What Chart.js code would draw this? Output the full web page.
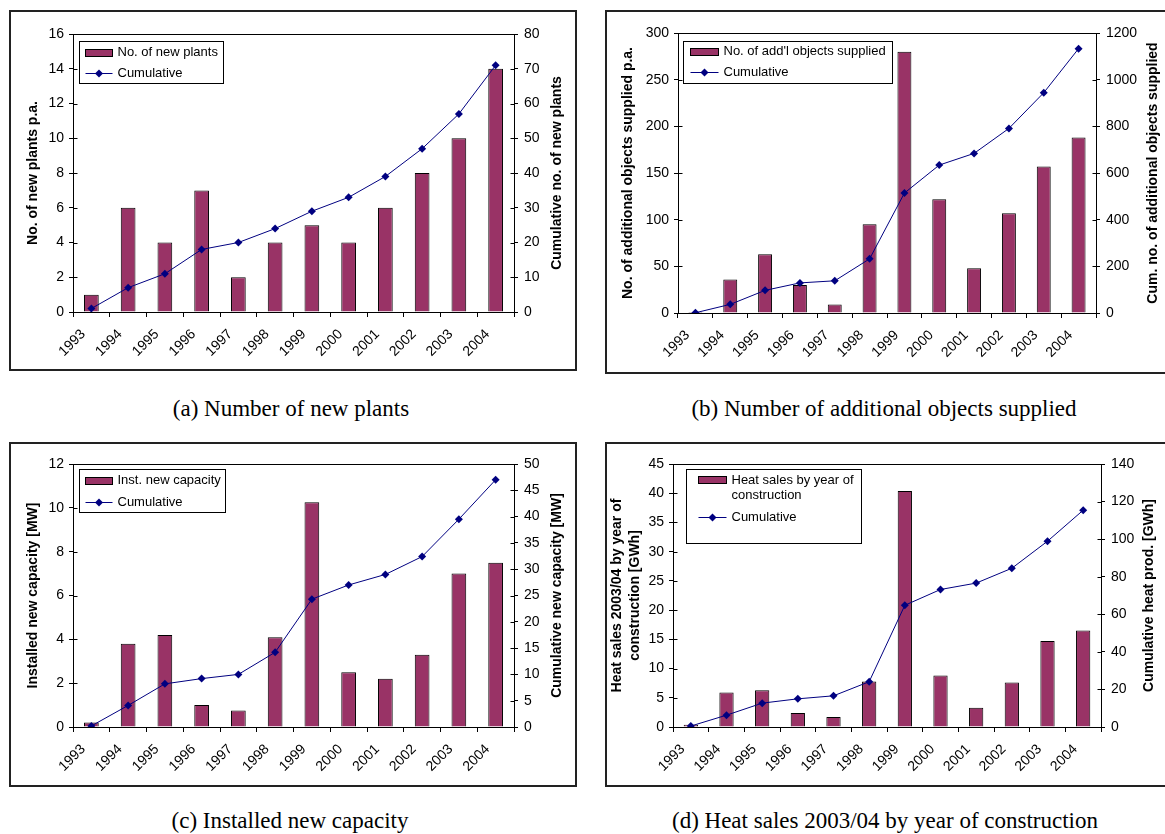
<!DOCTYPE html>
<html>
<head>
<meta charset="utf-8">
<script src="https://cdn.jsdelivr.net/npm/chart.js@4.4.0/dist/chart.umd.min.js"></script>
<style>
  html, body { margin: 0; padding: 0; background: #fff; }
  body { width: 1165px; height: 834px; position: relative; overflow: hidden; }
  canvas { position: absolute; }
  .frame { position: absolute; box-sizing: border-box; border: 2px solid #222; pointer-events: none; }
  .caption { position: absolute; width: 600px; text-align: center; line-height: 1;
             font-family: 'Liberation Serif', 'Times New Roman', serif; font-size: 23px; color: #000; }
</style>
</head>
<body>
<canvas id="chartA"></canvas>
<canvas id="chartB"></canvas>
<canvas id="chartC"></canvas>
<canvas id="chartD"></canvas>
<div class="caption" style="left:-9px; top:397px;">(a) Number of new plants</div>
<div class="caption" style="left:584px; top:397px;">(b) Number of additional objects supplied</div>
<div class="caption" style="left:-10px; top:809px;">(c) Installed new capacity</div>
<div class="caption" style="left:585px; top:809px;">(d) Heat sales 2003/04 by year of construction</div>
<script>
// Years of construction
const years = ['1993', '1994', '1995', '1996', '1997', '1998', '1999', '2000', '2001', '2002', '2003', '2004'];

// (a) new plants per year and cumulative count
const newPlants    = [1, 6, 4, 7, 2, 4, 5, 4, 6, 8, 10, 14];
const newPlantsCum = [1, 7, 11, 18, 20, 24, 29, 33, 39, 47, 57, 71];

// (b) additional objects supplied per year and cumulative count
const addObjects    = [1, 36, 63, 30, 9, 95, 280, 122, 48, 107, 157, 188];
const addObjectsCum = [1, 37, 97, 129, 138, 232, 514, 634, 684, 791, 944, 1133];

// (c) installed new capacity [MW] and cumulative capacity
const newCapacity    = [0.2, 3.8, 4.2, 1.0, 0.75, 4.1, 10.25, 2.5, 2.2, 3.3, 7.0, 7.5];
const newCapacityCum = [0.2, 4.1, 8.2, 9.2, 10.0, 14.2, 24.3, 27.0, 29.0, 32.4, 39.5, 47.0];

// (d) heat sales 2003/04 [GWh] by year of construction and cumulative heat production
const heatSales    = [0.4, 5.9, 6.3, 2.4, 1.7, 7.8, 40.4, 8.8, 3.3, 7.6, 14.7, 16.5];
const heatSalesCum = [0.5, 6.3, 12.7, 15.0, 16.6, 24.1, 64.8, 73.2, 76.6, 84.5, 98.9, 115.4];

// Axis ranges: [min, max, step]
const plantsLeftTicks    = [0, 16, 2];
const plantsRightTicks   = [0, 80, 10];
const objectsLeftTicks   = [0, 300, 50];
const objectsRightTicks  = [0, 1200, 200];
const capacityLeftTicks  = [0, 12, 2];
const capacityRightTicks = [0, 50, 5];
const heatLeftTicks      = [0, 45, 5];
const heatRightTicks     = [0, 140, 20];

const BAR_FILL = '#993366';
const LINE_COL = '#000080';
const FONT = "'Liberation Sans', Arial, sans-serif";
const TICK_FONT = { family: FONT, size: 14 };
const YEAR_ANGLE = 45;

Chart.defaults.font.family = FONT;
Chart.defaults.font.size = 14;
Chart.defaults.color = '#000';

// Decorations: plot-area top edge, inner tick halves, rotated axis titles, boxed legend
const panelDecor = {
  id: 'panelDecor',
  afterDraw(chart, args, opts) {
    const ctx = chart.ctx;
    const a = chart.chartArea;
    ctx.save();
    ctx.strokeStyle = '#000';
    ctx.lineWidth = 1;
    ctx.beginPath();
    ctx.moveTo(a.left, Math.round(a.top) + 0.5);
    ctx.lineTo(a.right, Math.round(a.top) + 0.5);
    ['y', 'y1'].forEach(id => {
      const s = chart.scales[id];
      const left = s.position === 'left';
      const x0 = Math.round(left ? a.left : a.right) + 0.5;
      s.ticks.forEach((t, i) => {
        const y = Math.round(s.getPixelForTick(i)) + 0.5;
        ctx.moveTo(x0, y);
        ctx.lineTo(x0 + (left ? 4 : -4), y);
      });
    });
    ctx.stroke();

    // axis titles, both read bottom-to-top
    const yMid = (a.top + a.bottom) / 2;
    ctx.fillStyle = '#000';
    ctx.font = 'bold 14px ' + FONT;
    ctx.textAlign = 'center';
    ctx.textBaseline = 'middle';
    [opts.leftTitle, opts.rightTitle].forEach(t => {
      ctx.save();
      ctx.translate(t.x, yMid);
      ctx.rotate(-Math.PI / 2);
      t.lines.forEach((ln, i) => ctx.fillText(ln, 0, (i - (t.lines.length - 1) / 2) * 18));
      ctx.restore();
    });

    // legend box inside the plot area
    const L = opts.legend;
    const bx = Math.round(a.left + L.x) + 0.5, by = Math.round(a.top + L.y) + 0.5;
    ctx.fillStyle = '#fff';
    ctx.fillRect(bx, by, L.w, L.h);
    ctx.strokeStyle = '#000';
    ctx.strokeRect(bx, by, L.w, L.h);
    ctx.font = '13px ' + FONT;
    ctx.textAlign = 'left';
    ctx.textBaseline = 'middle';
    const sx = bx + L.sx;
    // bar swatch
    const r1 = by + L.rows[0];
    ctx.fillStyle = BAR_FILL;
    ctx.fillRect(sx, Math.round(r1 - 4) + 0.5, L.sw, 7);
    ctx.strokeRect(sx, Math.round(r1 - 4) + 0.5, L.sw, 7);
    ctx.fillStyle = '#000';
    L.barLabel.forEach((ln, i) => ctx.fillText(ln, bx + L.tx, r1 + i * 15));
    // line sample with diamond
    const r2 = Math.round(by + L.rows[1]) + 0.5;
    ctx.strokeStyle = LINE_COL;
    ctx.beginPath();
    ctx.moveTo(sx, r2);
    ctx.lineTo(sx + L.sw, r2);
    ctx.stroke();
    const cx = sx + L.sw / 2;
    ctx.fillStyle = LINE_COL;
    ctx.beginPath();
    ctx.moveTo(cx, r2 - 4); ctx.lineTo(cx + 4, r2); ctx.lineTo(cx, r2 + 4); ctx.lineTo(cx - 4, r2);
    ctx.closePath();
    ctx.fill();
    ctx.fillStyle = '#000';
    ctx.fillText(L.lineLabel, bx + L.tx, r2);
    ctx.restore();
  }
};

function makePanel(p) {
  const cv = document.getElementById(p.id);
  cv.width = p.box[2] - p.box[0];
  cv.height = p.box[3] - p.box[1];
  cv.style.left = p.box[0] + 'px';
  cv.style.top = p.box[1] + 'px';

  const fr = document.createElement('div');
  fr.className = 'frame';
  fr.style.left = p.box[0] + 'px';
  fr.style.top = p.box[1] + 'px';
  fr.style.width = (p.box[2] - p.box[0]) + 'px';
  fr.style.height = (p.box[3] - p.box[1]) + 'px';
  document.body.appendChild(fr);

  const area = p.area; // [left, top, right, bottom] in page coordinates
  const leftW = area[0] - p.box[0];
  const rightW = p.box[2] - area[2];
  const bottomH = p.box[3] - area[3];

  new Chart(cv, {
    data: {
      labels: years,
      datasets: [
        {
          type: 'line', label: 'Cumulative', data: p.cum, yAxisID: 'y1', order: 0,
          borderColor: LINE_COL, backgroundColor: LINE_COL, borderWidth: 1, tension: 0,
          pointStyle: 'rectRot', pointRadius: 4, pointBorderWidth: 0,
          pointBackgroundColor: LINE_COL
        },
        {
          type: 'bar', label: p.barLabel.join(' '), data: p.bars, yAxisID: 'y', order: 1,
          backgroundColor: BAR_FILL, borderColor: '#000', borderWidth: 1,
          barPercentage: 0.4, categoryPercentage: 1
        }
      ]
    },
    options: {
      responsive: false,
      animation: false,
      devicePixelRatio: 1,
      layout: { padding: { top: area[1] - p.box[1], left: 0, right: 0, bottom: 0 } },
      plugins: {
        legend: { display: false },
        tooltip: { enabled: false },
        panelDecor: {
          leftTitle: { x: p.leftTitleX - p.box[0], lines: p.leftTitle },
          rightTitle: { x: p.rightTitleX - p.box[0], lines: p.rightTitle },
          legend: p.legend
        }
      },
      scales: {
        x: {
          type: 'category', offset: true,
          grid: { offset: true, drawOnChartArea: false, drawTicks: true, tickLength: 5, color: '#000' },
          border: { color: '#000' },
          ticks: { minRotation: YEAR_ANGLE, maxRotation: YEAR_ANGLE, autoSkip: false, padding: 9,
                   labelOffset: -8, color: '#000', font: TICK_FONT },
          afterFit: s => { s.height = bottomH; }
        },
        y: {
          position: 'left', min: p.leftTicks[0], max: p.leftTicks[1],
          ticks: { stepSize: p.leftTicks[2], padding: 5, color: '#000', font: TICK_FONT,
                   callback: v => String(v) },
          grid: { drawOnChartArea: false, tickLength: 4, color: '#000' },
          border: { color: '#000' },
          afterFit: s => { s.width = leftW; }
        },
        y1: {
          position: 'right', min: p.rightTicks[0], max: p.rightTicks[1],
          ticks: { stepSize: p.rightTicks[2], padding: 6, color: '#000', font: TICK_FONT,
                   callback: v => String(v) },
          grid: { drawOnChartArea: false, tickLength: 4, color: '#000' },
          border: { color: '#000' },
          afterFit: s => { s.width = rightW; }
        }
      }
    },
    plugins: [panelDecor]
  });
}

makePanel({
  id: 'chartA', box: [9, 10, 577, 371], area: [73, 34, 514, 312],
  bars: newPlants, cum: newPlantsCum, leftTicks: plantsLeftTicks, rightTicks: plantsRightTicks,
  barLabel: ['No. of new plants'],
  leftTitle: ['No. of new plants p.a.'], leftTitleX: 33,
  rightTitle: ['Cumulative no. of new plants'], rightTitleX: 557,
  legend: { x: 6, y: 7, w: 144, h: 42, sx: 6, sw: 27, tx: 38, rows: [11, 31.5],
            barLabel: ['No. of new plants'], lineLabel: 'Cumulative' }
});

makePanel({
  id: 'chartB', box: [605, 10, 1167, 374], area: [678, 33, 1096, 313],
  bars: addObjects, cum: addObjectsCum, leftTicks: objectsLeftTicks, rightTicks: objectsRightTicks,
  barLabel: ["No. of add'l objects supplied"],
  leftTitle: ['No. of additional objects supplied p.a.'], leftTitleX: 628,
  rightTitle: ['Cum. no. of additional objects supplied'], rightTitleX: 1153,
  legend: { x: 5, y: 8, w: 209, h: 42, sx: 7, sw: 28, tx: 40, rows: [10, 30],
            barLabel: ["No. of add'l objects supplied"], lineLabel: 'Cumulative' }
});

makePanel({
  id: 'chartC', box: [9, 442, 577, 787], area: [73, 464, 514, 727],
  bars: newCapacity, cum: newCapacityCum, leftTicks: capacityLeftTicks, rightTicks: capacityRightTicks,
  barLabel: ['Inst. new capacity'],
  leftTitle: ['Installed new capacity [MW]'], leftTitleX: 33,
  rightTitle: ['Cumulative new capacity [MW]'], rightTitleX: 557,
  legend: { x: 6, y: 5, w: 146, h: 43, sx: 6, sw: 27, tx: 38, rows: [11, 32.5],
            barLabel: ['Inst. new capacity'], lineLabel: 'Cumulative' }
});

makePanel({
  id: 'chartD', box: [605, 442, 1167, 787], area: [673, 464, 1101, 727],
  bars: heatSales, cum: heatSalesCum, leftTicks: heatLeftTicks, rightTicks: heatRightTicks,
  barLabel: ['Heat sales by year of', 'construction'],
  leftTitle: ['Heat sales 2003/04 by year of', 'construction [GWh]'], leftTitleX: 626,
  rightTitle: ['Cumulative heat prod. [GWh]'], rightTitleX: 1149,
  legend: { x: 13, y: 5, w: 175, h: 74, sx: 12, sw: 28, tx: 45, rows: [10.5, 47],
            barLabel: ['Heat sales by year of', 'construction'], lineLabel: 'Cumulative' }
});
</script>
</body>
</html>
